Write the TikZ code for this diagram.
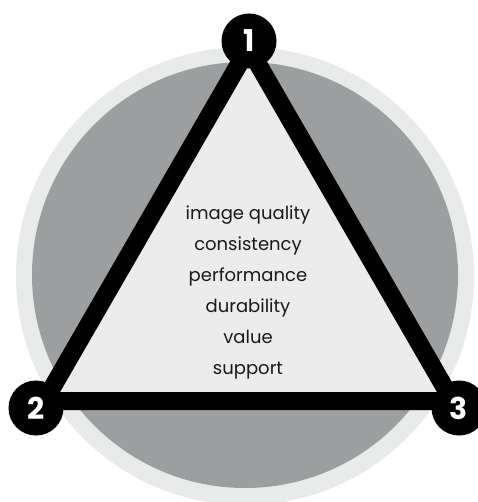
\documentclass[tikz,border=0pt]{standalone}
\usepackage{fontspec}
\setmainfont{Poppins}
\begin{document}
\begin{tikzpicture}[x=1pt,y=-1pt,
  badge/.style={circle,fill=black,minimum size=55pt,inner sep=0pt,text=white,font=\fontsize{30}{30}\selectfont\bfseries},
  edge/.style={line width=18pt,line join=miter,black},
  items/.style={align=center,font=\fontsize{18}{31}\selectfont,text=black!90}]
\useasboundingbox (0,0) rectangle (477,502);
\definecolor{ringgray}{HTML}{E9EAEA}
\definecolor{discgray}{HTML}{9D9EA0}
\definecolor{trigray}{HTML}{EBECEB}
\fill[ringgray] (245,276) circle (229);
\fill[discgray] (245,275) circle (213);
\coordinate (v1) at (248.5,47.6);
\coordinate (v2) at (44.5,401);
\coordinate (v3) at (452.5,401);
\fill[trigray] (v1) -- (v2) -- (v3) -- cycle;
\draw[edge] (v1) -- (v2) -- (v3) -- cycle;
\node[badge] (n1) at (249,41) {1};
\node[badge] (n2) at (36,408) {2};
\node[badge] (n3) at (459,408) {3};
\node[items] (list) at (248,292) {image quality\\consistency\\performance\\durability\\value\\support};
\end{tikzpicture}
\end{document}
